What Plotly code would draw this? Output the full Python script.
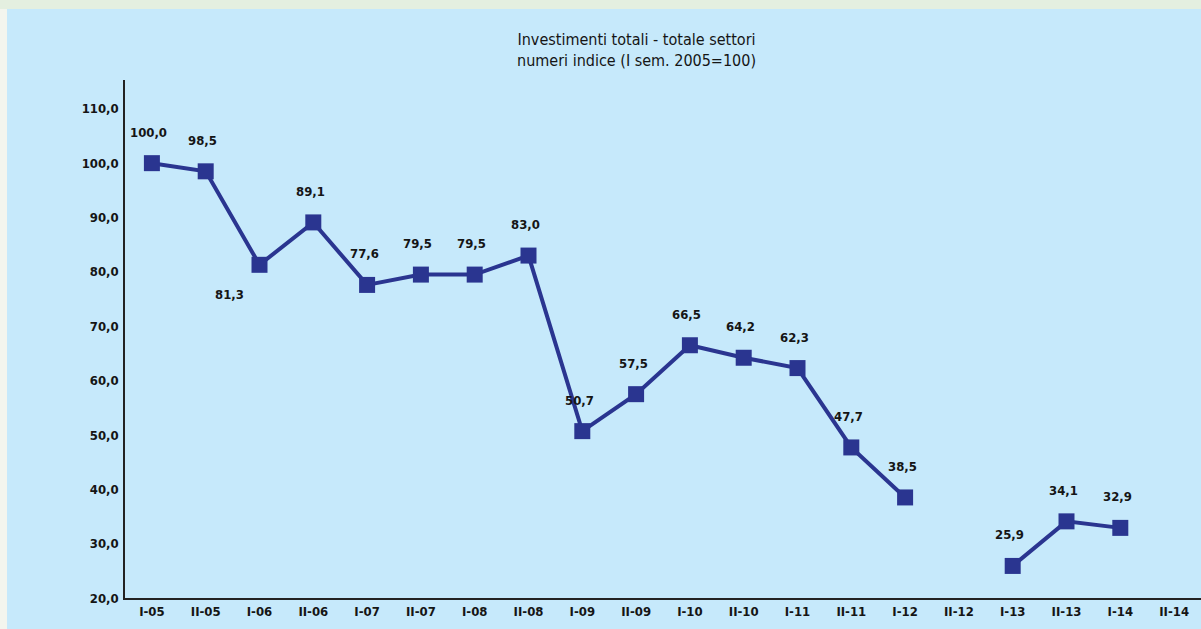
import plotly.graph_objects as go

# semesters and index values (I sem. 2005 = 100); None = no data
periods = ["I-05", "II-05", "I-06", "II-06", "I-07", "II-07", "I-08", "II-08",
           "I-09", "II-09", "I-10", "II-10", "I-11", "II-11", "I-12", "II-12",
           "I-13", "II-13", "I-14", "II-14"]
index_values = [100.0, 98.5, 81.3, 89.1, 77.6, 79.5, 79.5, 83.0,
                50.7, 57.5, 66.5, 64.2, 62.3, 47.7, 38.5, None,
                25.9, 34.1, 32.9, None]
y_ticks = [20, 30, 40, 50, 60, 70, 80, 90, 100, 110]

BLUE_BG = "#c6e9fb"
LINE_COL = "#2a3590"
FONT = "DejaVu Sans Condensed, Liberation Sans Narrow, sans-serif"
TXT = "#151515"

# label placement tweaks (index -> (xshift, yshift))
LABEL_SHIFT = {2: (-30, -30)}

fig = go.Figure()
fig.add_trace(go.Scatter(
    x=periods, y=index_values, mode="lines+markers",
    line=dict(color=LINE_COL, width=4),
    marker=dict(symbol="square", size=16, color=LINE_COL),
    connectgaps=False, showlegend=False, hoverinfo="skip",
))

for i, (p, v) in enumerate(zip(periods, index_values)):
    if v is None:
        continue
    xs, ys = LABEL_SHIFT.get(i, (-3, 31))
    fig.add_annotation(
        x=p, y=v, text=f"{v:.1f}".replace(".", ","), showarrow=False,
        xshift=xs, yshift=ys,
        font=dict(family=FONT, size=13, color=TXT, weight="bold"),
    )

# page border strips
fig.add_shape(type="rect", xref="paper", yref="paper",
              x0=-0.2, x1=1.1, y0=(598 - 9) / 518, y1=1.3,
              fillcolor="#e4efe0", line_width=0, layer="below")
fig.add_shape(type="rect", xref="paper", yref="paper",
              x0=-0.2, x1=-118 / 1076, y0=-0.2, y1=(598 - 9) / 518,
              fillcolor="#f3f5ee", line_width=0, layer="below")

fig.update_layout(
    width=1201, height=629,
    paper_bgcolor=BLUE_BG, plot_bgcolor=BLUE_BG,
    margin=dict(l=125, r=0, t=80, b=31),
    separators=",.",
    font=dict(family=FONT, size=14, color=TXT),
    title=dict(
        text="Investimenti totali - totale settori<br>numeri indice (I sem. 2005=100)",
        x=0.53, xanchor="center", y=1 - 45 / 629, yanchor="middle",
        font=dict(family=FONT, size=16, color=TXT),
    ),
)
fig.update_xaxes(
    range=[-0.5, 19.5], showgrid=False, zeroline=False,
    showline=True, linecolor="#222222", linewidth=2,
    ticks="", tickfont=dict(family=FONT, size=13, color=TXT, weight="bold"),
)
fig.update_yaxes(
    range=[20, 115.3], tickvals=y_ticks, tickformat=".1f",
    showgrid=False, zeroline=False,
    showline=True, linecolor="#222222", linewidth=1.5,
    ticks="", ticklabelstandoff=2,
    tickfont=dict(family=FONT, size=13, color=TXT, weight="bold"),
)

fig.write_html(
    "out.html",
    config={"displayModeBar": False},
    post_script="document.body.style.margin='0px';document.body.style.overflow='hidden';",
)
